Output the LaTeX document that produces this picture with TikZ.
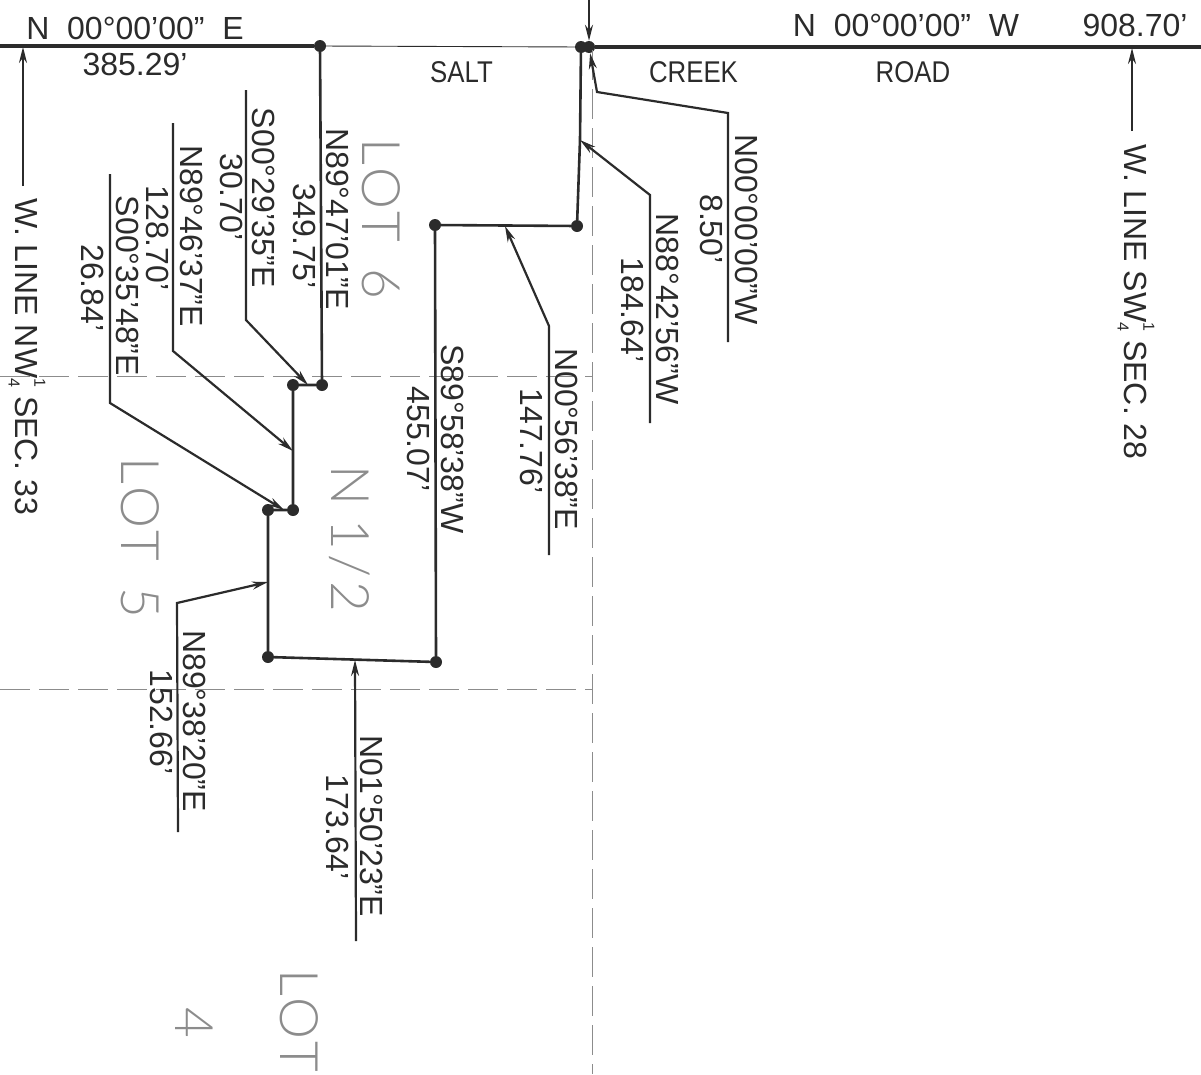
\documentclass[tikz,border=0pt]{standalone}
\usepackage{fontspec}
\setmainfont{Liberation Sans}
\newfontfamily\lotfont[LetterSpace = 8]{Lato Light}
\usepackage{tikz}
\usetikzlibrary{arrows.meta}
\definecolor{mink}{rgb}{0.17, 0.17, 0.17}
\definecolor{mfaint}{rgb}{0.55, 0.55, 0.55}
\tikzset{circ/.style = {fill = mink, circle, inner sep = 0, minimum size = 12}}
\tikzset{leader/.style = {draw = mink, line width = 2.2}}
\tikzset{tip/.style = {-{Stealth[length = 16, width = 8]}}}
\tikzset{bound/.style = {draw = mink, line width = 2.6}}
\tikzset{section/.style = {draw = mfaint, line width = 0.9, dash pattern = on 30 off 9}}
\tikzset{txt/.style = {text = mink, inner sep = 0, font = \fontsize{32}{32}\selectfont}}
\tikzset{down/.style = {txt, rotate = -90}}
\tikzset{road/.style = {txt, font = \fontsize{30}{30}\selectfont, xscale = 0.86}}
\tikzset{lot/.style = {inner sep = 0, text = mfaint, rotate = -90, font = \fontsize{53}{53}\selectfont\lotfont}}
\newcommand{\qfrac}{\rlap{\raisebox{0.6em}{\fontsize{16}{16}\selectfont 1}}\raisebox{-0.2em}{\fontsize{16}{16}\selectfont 4}}

\begin{document}
\begin{tikzpicture}[x = 1pt, y = -1pt]
      \useasboundingbox (0, 0) rectangle (1201, 1074);
      \foreach \n/\x/\y in {a/320/46, b/322/385, c/293/385, d/293/510, e/268/510, f/268/657, g/436/662, h/435/225, i/577/226, j/581/47, k/589/47} {
        \node [circ] (\n) at (\x, \y) {};
      }
      \foreach \n/\x/\y in {wl/0/46, wr/1201/47, ktop/589/0, mid/580/140, nwa/23/47, nwb/23/186, swa/1132/48, swb/1132/131,
          pa/597/92, pb/728/113, pc/728/342, qa/650/195, qb/650/423, ra/505/226, rb/549/326, rc/549/555,
          sa/308/385, sb/246/320, sc/246/90, ta/293/451, tb/173/351, tc/173/123, ua/284/510, ub/110/403, uc/110/174,
          va/268/582, vb/177/603, vc/178/832, ya/355/660, yb/356/941,
          xa/592/50, xb/592/1074, la/0/376, lb/592/376, ma/0/689, mb/592/689} {
        \coordinate (\n) at (\x, \y);
      }
      \draw [section] (xa) -- (xb);
      \draw [section] (la) -- (lb);
      \draw [section] (ma) -- (mb);
      \draw [draw = mink, line width = 0.9] (a) -- (j);
      \draw [draw = mink, line width = 3.2] (wl) -- (a);
      \draw [draw = mink, line width = 3.2] (k) -- (wr);
      \draw [bound] (a) -- (b) -- (c) -- (d) -- (e) -- (f) -- (g) -- (h) -- (i) -- (mid) -- (j) -- (k);
      \draw [leader, tip] (ktop) -- (k);
      \draw [leader, tip] (nwb) -- (nwa);
      \draw [leader, tip] (swb) -- (swa);
      \draw [leader, tip] (pc) -- (pb) -- (pa) -- (k);
      \draw [leader, tip] (qb) -- (qa) -- (mid);
      \draw [leader, tip] (rc) -- (rb) -- (ra);
      \draw [leader, tip] (sc) -- (sb) -- (sa);
      \draw [leader, tip] (tc) -- (tb) -- (ta);
      \draw [leader, tip] (uc) -- (ub) -- (ua);
      \draw [leader, tip] (vc) -- (vb) -- (va);
      \draw [leader, tip] (yb) -- (ya);
      \foreach \n/\x/\y/\t in {ba/338/219/N89°47'01"E, bb/304.5/236/349.75', bc/264/198/S00°29'35"E, bd/231.5/197/30.70',
          be/191.5/236/N89°46'37"E, bf/158/238/128.70', bg/127.5/286/S00°35'48"E, bh/93/288/26.84',
          bi/746.5/229.5/N00°00'00"W, bj/711.5/229/8.50', bk/667.5/309/N88°42'56"W, bl/633/310/184.64',
          bm/566.5/439/N00°56'38"E, bn/532/441/147.76', bo/453/439/S89°58'38"W, bp/418.5/439/455.07',
          bq/195/721/N89°38'20"E, br/161.5/722/152.66', bs/371.5/826/N01°50'23"E, bt/338/827/173.64'} {
        \node [down] (\n) at (\x, \y) {\t};
      }
      \node [down] (nwline) at (27, 357) {W. LINE NW\qfrac\ SEC. 33};
      \node [down] (swline) at (1136, 302) {W. LINE SW\qfrac\ SEC. 28};
      \node [txt] (brga) at (135, 28) {N\ \ 00°00'00"\ \ E};
      \node [txt] (dista) at (135, 64) {385.29'};
      \node [txt] (brgb) at (906, 25) {N\ \ 00°00'00"\ \ W};
      \node [txt] (distb) at (1135, 25) {908.70'};
      \node [road] (salt) at (461.5, 72) {SALT};
      \node [road] (creek) at (693.5, 72) {CREEK};
      \node [road] (roadname) at (913, 72) {ROAD};
      \node [lot] (lotsix) at (381, 219) {LOT\hspace{27pt}6};
      \node [lot] (lotfive) at (140, 538) {LOT\hspace{27pt}5};
      \node [lot] (half) at (350, 539) {N\hspace{14pt}1/2};
      \node [lot, anchor = west] (lotfour) at (299, 969) {LOT};
      \node [lot] (four) at (194, 1023) {4};
    \end{tikzpicture}
\end{document}
